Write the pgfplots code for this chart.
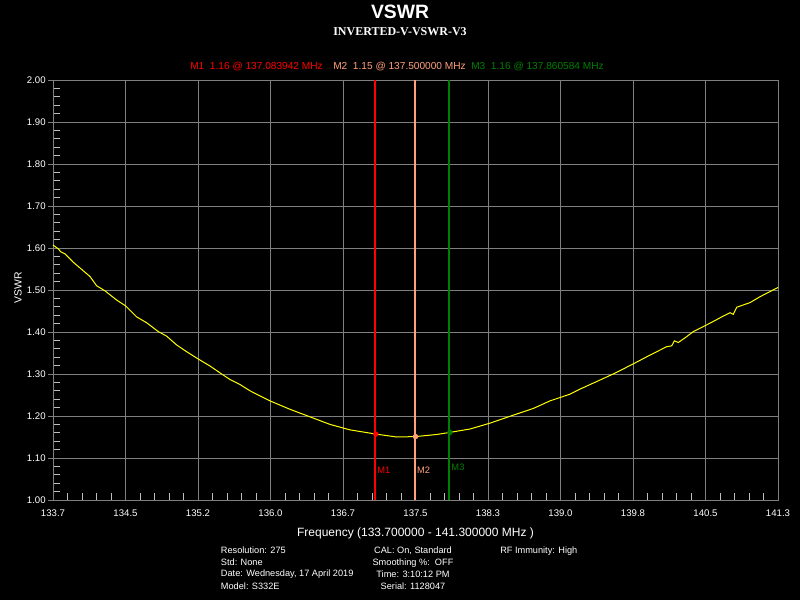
\documentclass[border=0pt]{standalone}
\usepackage{pgfplots}
\pgfplotsset{compat=1.18}
\usepackage{fontspec}
\setmainfont{Liberation Sans}
\newfontfamily\serifb{Liberation Serif}
\definecolor{gridgray}{RGB}{128,128,128}
\definecolor{ticklight}{RGB}{190,190,190}
\definecolor{markerred}{RGB}{255,0,0}
\definecolor{markersalmon}{RGB}{255,160,122}
\definecolor{markergreen}{RGB}{0,128,0}
\definecolor{trace}{RGB}{255,255,0}

\pgfplotstableread{
f v
133.700 1.607
133.756 1.598
133.781 1.591
133.826 1.586
133.913 1.566
134.001 1.549
134.088 1.532
134.158 1.510
134.245 1.498
134.368 1.476
134.462 1.462
134.577 1.436
134.682 1.422
134.804 1.401
134.892 1.390
134.997 1.369
135.102 1.353
135.213 1.337
135.346 1.319
135.468 1.300
135.555 1.287
135.660 1.275
135.765 1.260
135.975 1.236
136.184 1.216
136.394 1.198
136.604 1.180
136.813 1.167
137.084 1.157
137.303 1.150
137.500 1.151
137.722 1.156
137.861 1.161
138.071 1.169
138.281 1.183
138.525 1.202
138.735 1.218
138.910 1.236
139.015 1.244
139.120 1.252
139.224 1.264
139.399 1.282
139.591 1.302
139.773 1.323
139.958 1.345
140.133 1.365
140.186 1.367
140.213 1.379
140.255 1.375
140.343 1.389
140.412 1.401
140.587 1.421
140.727 1.438
140.797 1.446
140.831 1.442
140.867 1.459
141.007 1.470
141.111 1.484
141.300 1.506
}\vswrdata

\begin{document}
\begin{tikzpicture}[x=0.75pt,y=-0.75pt]
\fill[black] (0,0) rectangle (800,600);
\node[text=white,font=\fontsize{14.5}{16}\selectfont\bfseries] at (400,12) {VSWR};
\node[text=white,font=\serifb\fontsize{9}{10}\selectfont\bfseries] at (400,32) {INVERTED-V-VSWR-V3};
\node[anchor=west,inner sep=0pt,text=markerred,font=\fontsize{7.6}{9}\selectfont] at (190,67) {M1\ \ 1.16 @ 137.083942 MHz};
\node[anchor=west,inner sep=0pt,text=markersalmon,font=\fontsize{7.6}{9}\selectfont] at (333,67) {M2\ \ 1.15 @ 137.500000 MHz};
\node[anchor=west,inner sep=0pt,text=markergreen,font=\fontsize{7.6}{9}\selectfont] at (471,67) {M3\ \ 1.16 @ 137.860584 MHz};

\begin{axis}[
  at={(39.75pt,-375pt)}, anchor=south west,
  scale only axis, width=543.75pt, height=315pt,
  xmin=133.7, xmax=141.3, ymin=1, ymax=2,
  clip=false,
  xtick={133.7,134.46,135.22,135.98,136.74,137.5,138.26,139.02,139.78,140.54,141.3},
  xticklabels={133.7,134.5,135.2,136.0,136.7,137.5,138.3,139.0,139.8,140.5,141.3},
  ytick={1,1.1,1.2,1.3,1.4,1.5,1.6,1.7,1.8,1.9,2},
  yticklabels={1.00,1.10,1.20,1.30,1.40,1.50,1.60,1.70,1.80,1.90,2.00},
  minor x tick num=4, minor y tick num=4,
  tick pos=left,
  tick align=inside, major tick length=0pt, minor tick length=5pt,
  minor tick style={ticklight, line width=0.75pt},
  grid=major, major grid style={gridgray, line width=0.75pt},
  axis line style={gridgray, line width=0.75pt},
  extra y ticks={1,1.1,1.2,1.3,1.4,1.5,1.6,1.7,1.8,1.9,2},
  extra y tick labels={},
  extra tick style={grid=none, tick align=outside, major tick length=3.75pt, major tick style={gridgray, line width=0.75pt}},
  ticklabel style={text=white, font=\fontsize{7.2}{8}\selectfont},
  xticklabel style={yshift=-4pt},
  yticklabel style={xshift=-2pt},
  xlabel={Frequency (133.700000 - 141.300000 MHz )},
  ylabel={VSWR},
  label style={text=white},
  xlabel style={at={(axis description cs:0.5,-0.0786)}, anchor=center, font=\fontsize{9}{10}\selectfont},
  ylabel style={at={(axis description cs:-0.0483,0.505)}, anchor=center, font=\fontsize{7.8}{9}\selectfont},
]
% marker lines as narrow filled strips aligned to the pixel grid
\addplot[fill=markerred, draw=none] coordinates {(137.06497,1) (137.08593,1) (137.08593,2) (137.06497,2)} -- cycle;
\addplot[fill=markersalmon, draw=none] coordinates {(137.48428,1) (137.50524,1) (137.50524,2) (137.48428,2)} -- cycle;
\addplot[fill=markergreen, draw=none] coordinates {(137.84069,1) (137.86166,1) (137.86166,2) (137.84069,2)} -- cycle;
\addplot[draw=trace, line width=0.75pt] table[x=f, y=v] {\vswrdata};
\addplot[only marks, mark=*, mark size=1.8pt, markerred] coordinates {(137.083942,1.157)};
\addplot[only marks, mark=*, mark size=1.8pt, markersalmon] coordinates {(137.5,1.151)};
\addplot[only marks, mark=*, mark size=1.8pt, markergreen] coordinates {(137.860584,1.161)};
\node[anchor=west, inner sep=1pt, text=markerred, font=\fontsize{7}{8}\selectfont] at (axis cs:137.083942,1.070) {M1};
\node[anchor=west, inner sep=1pt, text=markersalmon, font=\fontsize{7}{8}\selectfont] at (axis cs:137.5,1.070) {M2};
\node[anchor=west, inner sep=1pt, text=markergreen, font=\fontsize{7}{8}\selectfont] at (axis cs:137.860584,1.079) {M3};
\end{axis}

\begin{scope}[font=\fontsize{6.9}{8}\selectfont, text=white]
\node[anchor=west,inner sep=0pt] at (220.7,550.7) {Resolution: 275};
\node[anchor=west,inner sep=0pt] at (220.7,562.7) {Std: None};
\node[anchor=west,inner sep=0pt] at (220.7,574.5) {Date: Wednesday, 17 April 2019};
\node[anchor=west,inner sep=0pt] at (220.7,586.5) {Model: S332E};
\node[inner sep=0pt] at (413,550.7) {CAL: On, Standard};
\node[inner sep=0pt] at (413,562.7) {Smoothing \%:\ \ OFF};
\node[inner sep=0pt] at (413,574.5) {Time: 3:10:12 PM};
\node[inner sep=0pt] at (413,586.5) {Serial: 1128047};
\node[anchor=west,inner sep=0pt] at (500,550.7) {RF Immunity: High};
\end{scope}
\end{tikzpicture}
\end{document}
